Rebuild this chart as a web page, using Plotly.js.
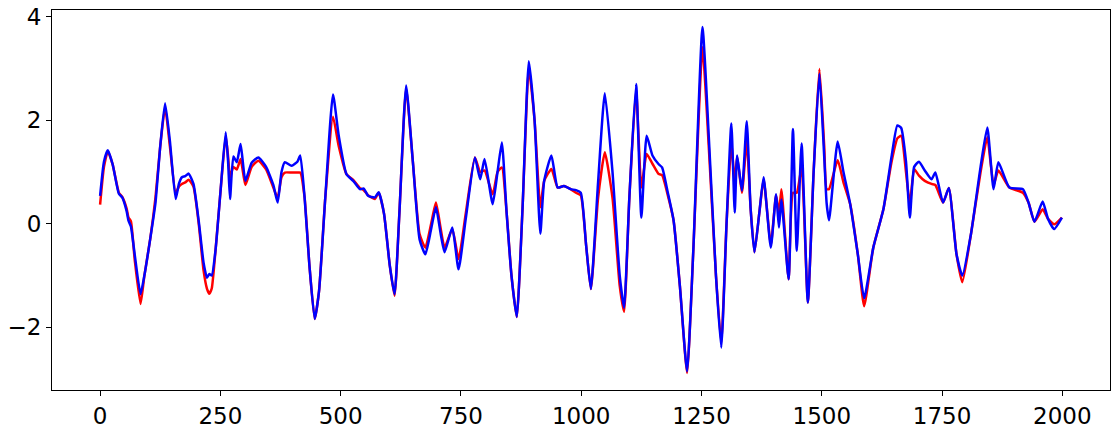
<!DOCTYPE html>
<html>
<head>
<meta charset="utf-8">
<script src="https://cdn.plot.ly/plotly-3.0.1.min.js"></script>
<style>
  html, body { margin: 0; padding: 0; background: #fff; }
  #plot { width: 1116px; height: 428px; }
</style>
</head>
<body>
<div id="plot"></div>
<script>
// sample positions (shared by both series)
var steps = [0, 8, 16, 26, 39, 46, 55, 59, 64, 72, 84, 92, 104, 115, 125, 135, 145, 157, 164, 170,
  177, 184, 194, 205, 215, 222, 227, 232, 240, 250, 261, 266, 270, 277, 284, 292, 302, 315, 329, 345,
  360, 369, 377, 384, 398, 410, 416, 425, 435, 446, 455, 468, 484, 496, 512, 526, 540, 548, 557, 571,
  579, 590, 602, 612, 622, 636, 650, 664, 676, 688, 698, 708, 716, 732, 745, 760, 779, 790, 799, 816,
  826, 835, 845, 855, 866, 878, 891, 903, 915, 923, 938, 951, 964, 978, 989, 999, 1010, 1020, 1035, 1049,
  1065, 1080, 1089, 1100, 1114, 1125, 1136, 1148, 1161, 1168, 1180, 1192, 1205, 1220, 1233, 1252, 1265, 1280, 1291, 1302,
  1312, 1319, 1324, 1334, 1344, 1352, 1360, 1370, 1379, 1394, 1405, 1411, 1416, 1431, 1440, 1448, 1458, 1471, 1483, 1495,
  1505, 1510, 1515, 1533, 1545, 1559, 1575, 1588, 1607, 1628, 1645, 1657, 1665, 1675, 1683, 1692, 1702, 1714, 1728, 1736,
  1752, 1764, 1780, 1792, 1810, 1830, 1844, 1857, 1867, 1890, 1918, 1930, 1942, 1959, 1970, 1983, 1999];

var redValues = [0.37, 1.1, 1.40, 1.15, 0.6, 0.52, 0.3, 0.12, 0.05, -0.7, -1.55, -1.0, -0.3, 0.5, 1.5, 2.25, 1.5, 0.6, 0.72, 0.77,
  0.8, 0.85, 0.72, 0.0, -0.9, -1.25, -1.35, -1.25, -0.5, 0.6, 1.7, 1.3, 0.9, 1.1, 1.05, 1.25, 0.75, 1.1, 1.22, 1.05,
  0.7, 0.5, 0.9, 0.99, 0.99, 0.99, 0.99, 0.51, -0.8, -1.84, -1.3, 0.5, 2.07, 1.5, 0.96, 0.85, 0.69, 0.65, 0.55, 0.48,
  0.6, 0.2, -0.8, -1.39, 0.2, 2.62, 1.2, -0.2, -0.46, 0.0, 0.41, -0.1, -0.46, -0.1, -0.68, 0.2, 1.28, 1.0, 1.03, 0.57,
  1.0, 1.09, 0.2, -1.0, -1.8, 0.3, 3.0, 2.0, 0.32, 0.83, 1.06, 0.7, 0.73, 0.67, 0.6, 0.55, -0.4, -1.26, 0.5, 1.38,
  0.5, -1.2, -1.7, 0.5, 2.6, 0.7, 1.35, 1.16, 0.96, 0.94, 0.55, 0.06, -1.2, -2.88, -0.5, 3.41, 1.5, -1.0, -2.3, 0.0,
  1.54, 0.8, 1.3, 0.6, 1.6, 0.3, -0.55, 0.2, 0.86, -0.4, 0.55, 0.2, 0.67, -1.07, 0.6, 0.6, 1.09, -1.52, 1.0, 2.99,
  1.5, 0.67, 0.67, 1.23, 0.8, 0.38, -0.6, -1.59, -0.46, 0.28, 1.2, 1.65, 1.7, 1.0, 0.38, 1.06, 0.93, 0.83, 0.77, 0.75,
  0.41, 0.69, -0.59, -1.13, -0.2, 1.0, 1.67, 0.75, 1.03, 0.7, 0.6, 0.4, 0.04, 0.28, 0.1, -0.01, 0.12];

var blueValues = [0.54, 1.2, 1.42, 1.15, 0.58, 0.51, 0.25, 0.06, -0.05, -0.6, -1.36, -1.0, -0.3, 0.4, 1.5, 2.33, 1.6, 0.48, 0.78, 0.9,
  0.92, 0.97, 0.77, 0.05, -0.75, -1.04, -0.97, -1.0, -0.5, 0.6, 1.77, 1.2, 0.48, 1.3, 1.19, 1.54, 0.83, 1.18, 1.28, 1.1,
  0.75, 0.41, 1.0, 1.19, 1.12, 1.2, 1.32, 0.51, -0.8, -1.84, -1.3, 0.5, 2.5, 1.7, 0.96, 0.83, 0.67, 0.68, 0.54, 0.51,
  0.61, 0.2, -0.8, -1.36, 0.2, 2.67, 1.2, -0.3, -0.59, -0.1, 0.32, -0.2, -0.55, -0.07, -0.88, 0.1, 1.28, 0.86, 1.25, 0.38,
  1.0, 1.57, 0.2, -1.0, -1.8, 0.3, 3.14, 2.0, -0.19, 0.83, 1.32, 0.7, 0.73, 0.67, 0.65, 0.6, -0.4, -1.26, 0.8, 2.52,
  1.0, -1.0, -1.62, 0.5, 2.7, 0.12, 1.7, 1.32, 1.15, 1.09, 0.6, 0.06, -1.2, -2.85, -0.5, 3.8, 1.7, -1.0, -2.39, 0.0,
  1.94, 0.22, 1.32, 0.64, 1.98, 0.3, -0.55, 0.2, 0.9, -0.46, 0.57, -0.07, 0.47, -1.07, 1.83, -0.52, 1.55, -1.52, 1.0, 2.9,
  1.3, 0.4, 0.07, 1.59, 1.0, 0.38, -0.6, -1.44, -0.46, 0.28, 1.3, 1.9, 1.85, 1.2, 0.12, 1.1, 1.2, 1.03, 0.86, 0.99,
  0.41, 0.69, -0.59, -1.0, -0.2, 1.1, 1.86, 0.67, 1.19, 0.7, 0.67, 0.4, 0.04, 0.43, 0.1, -0.1, 0.12];

var yTicks = [-2, 0, 2, 4];
var xTicks = [0, 250, 500, 750, 1000, 1250, 1500, 1750, 2000];

var red = {
  x: steps,
  y: redValues,
  type: 'scatter',
  mode: 'lines',
  line: { color: '#ff0000', width: 2.5, shape: 'spline', smoothing: 0.5 },
  hoverinfo: 'skip'
};

var blue = {
  x: steps,
  y: blueValues,
  type: 'scatter',
  mode: 'lines',
  line: { color: '#0000ff', width: 2.5, shape: 'spline', smoothing: 0.5 },
  hoverinfo: 'skip'
};

var data = [red, blue];

var axisStyle = {
  showgrid: false,
  zeroline: false,
  showline: true,
  mirror: true,
  linecolor: '#000',
  linewidth: 1,
  ticks: 'outside',
  ticklen: 5,
  tickwidth: 1,
  tickcolor: '#000',
  tickfont: { family: 'DejaVu Sans', size: 23, color: '#000' }
};

var layout = {
  width: 1116,
  height: 428,
  margin: { l: 52, r: 6, t: 10, b: 38 },
  paper_bgcolor: '#fff',
  plot_bgcolor: '#fff',
  showlegend: false,
  xaxis: Object.assign({}, axisStyle, {
    range: [-100, 2099],
    tickvals: xTicks,
    ticktext: xTicks.map(String)
  }),
  yaxis: Object.assign({}, axisStyle, {
    range: [-3.21, 4.13],
    tickvals: yTicks
  })
};

Plotly.newPlot('plot', data, layout, { staticPlot: true });
</script>
</body>
</html>
